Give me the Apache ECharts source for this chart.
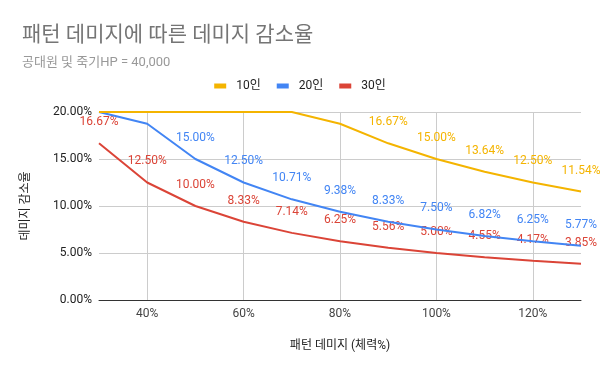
<!DOCTYPE html>
<html>
<head>
<meta charset="utf-8">
<script src="https://cdn.jsdelivr.net/npm/echarts@6/dist/echarts.min.js"></script>
<style>html,body{margin:0;padding:0;background:#fff}#c{width:600px;height:371px}</style>
</head>
<body>
<div id="c"></div>
<script>
const categories = ['30%','40%','50%','60%','70%','80%','90%','100%','110%','120%','130%'];
const seriesNames = ['10인','20인','30인'];
const s10 = [20, 20, 20, 20, 20, 18.75, 16.67, 15.00, 13.64, 12.50, 11.54];
const s20 = [20, 18.75, 15.00, 12.50, 10.71, 9.38, 8.33, 7.50, 6.82, 6.25, 5.77];
const s30 = [16.67, 12.50, 10.00, 8.33, 7.14, 6.25, 5.56, 5.00, 4.55, 4.17, 3.85];
const labelFrom = [6, 2, 0];
const yTicks = [0, 5, 10, 15, 20];
const colors = ['#f4b400', '#4285f4', '#db4437'];
const font = 'Roboto, "Noto Sans CJK KR", sans-serif';

function mk(values, i) {
  return {
    name: seriesNames[i],
    type: 'line',
    symbol: 'circle',
    symbolSize: 0.01,
    showSymbol: true,
    smooth: false,
    lineStyle: { width: 2, color: colors[i] },
    itemStyle: { color: colors[i] },
    data: values.map((v, k) => ({
      value: v,
      label: { show: k >= labelFrom[i] }
    })),
    label: {
      show: true,
      position: 'top', distance: 15, fontSize: 12, fontFamily: font, color: colors[i],
      formatter: p => p.value.toFixed(2) + '%'
    },
    labelLayout: { hideOverlap: false },
    z: 3 - i
  };
}

const chart = echarts.init(document.getElementById('c'), null, { renderer: 'canvas' });
chart.setOption({
  animation: false,
  color: colors,
  title: {
    text: '패턴 데미지에 따른 데미지 감소율',
    subtext: '공대원 및 죽기HP = 40,000',
    left: 17, top: 20, itemGap: 10,
    textStyle: { fontSize: 21, fontWeight: 'normal', color: '#757575', fontFamily: font },
    subtextStyle: { fontSize: 13, color: '#999999', fontFamily: font }
  },
  legend: {
    top: 75, left: 'center', icon: 'rect', itemWidth: 12, itemHeight: 5, itemGap: 16,
    textStyle: { fontSize: 12, color: '#222', fontFamily: font, padding: [0, 0, 0, 5] },
    data: seriesNames
  },
  grid: { left: 99, right: 19, top: 112, bottom: 71, containLabel: false },
  xAxis: {
    type: 'category', data: categories, boundaryGap: false,
    name: '패턴 데미지 (체력%)', nameLocation: 'middle', nameGap: 40,
    nameTextStyle: { fontSize: 12, color: '#222', fontFamily: font },
    axisLine: { lineStyle: { color: '#333', width: 1 } },
    axisTick: { show: false },
    axisLabel: { interval: (idx) => idx % 2 === 1, fontSize: 12, color: '#444', margin: 8, fontFamily: font },
    splitLine: { show: true, interval: (idx) => idx % 2 === 1, lineStyle: { color: '#cccccc' } }
  },
  yAxis: {
    type: 'value', min: yTicks[0], max: yTicks[yTicks.length - 1], interval: 5,
    name: '데미지 감소율', nameLocation: 'middle', nameGap: 67,
    nameTextStyle: { fontSize: 12, color: '#222', fontFamily: font },
    axisLine: { show: false }, axisTick: { show: false },
    axisLabel: { formatter: v => v.toFixed(2) + '%', fontSize: 12, color: '#222', margin: 7, fontFamily: font },
    splitLine: { lineStyle: { color: '#cccccc' } }
  },
  series: [mk(s10, 0), mk(s20, 1), mk(s30, 2)]
});
</script>
</body>
</html>
